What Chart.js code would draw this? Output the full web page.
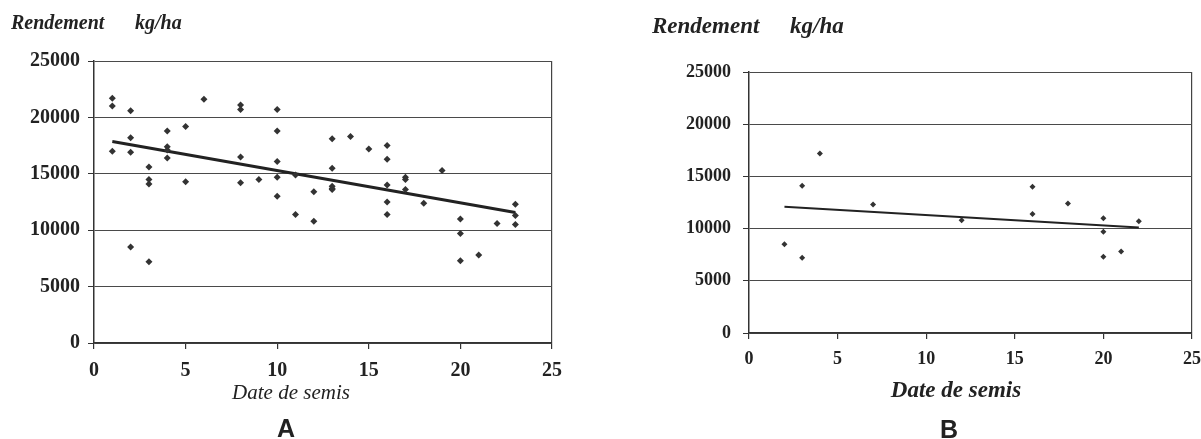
<!DOCTYPE html>
<html lang="fr">
<head>
<meta charset="utf-8">
<title>Rendement selon la date de semis</title>
<script src="https://cdn.jsdelivr.net/npm/chart.js@4.4.1/dist/chart.umd.min.js"></script>
<style>
  body { margin: 0; background: #fff; }
  #page { position: relative; width: 1201px; height: 439px; overflow: hidden; }
  canvas { position: absolute; top: 0; }
  #chartA { left: 0; }
  #chartB { left: 600px; }
  .txt { position: absolute; color: #222; line-height: 1; white-space: nowrap;
         font-family: "Liberation Serif", "Times New Roman", serif; }
  .ytitle { font-weight: bold; font-style: italic; }
  .xtitle { width: 240px; text-align: center; font-style: italic; }
  .letter { width: 100px; text-align: center; font-weight: bold;
            font-family: "Liberation Sans", Arial, sans-serif; font-size: 25px; }
</style>
</head>
<body>
<div id="page">
  <canvas id="chartA" width="600" height="439"></canvas>
  <canvas id="chartB" width="601" height="439"></canvas>

  <span class="txt ytitle" style="left:11px; top:12px; font-size:20px;">Rendement</span>
  <span class="txt ytitle" style="left:135px; top:12px; font-size:20px;">kg/ha</span>
  <span class="txt xtitle" style="left:171px; top:382px; font-size:21px;">Date de semis</span>
  <span class="txt letter" style="left:236px; top:416px;">A</span>

  <span class="txt ytitle" style="left:652px; top:14px; font-size:23px;">Rendement</span>
  <span class="txt ytitle" style="left:790px; top:14px; font-size:23px;">kg/ha</span>
  <span class="txt xtitle" style="left:836px; top:378px; font-size:23px; font-weight:bold;">Date de semis</span>
  <span class="txt letter" style="left:899px; top:417px;">B</span>
</div>

<script>
// Graphique A : toutes les dates de semis
const datesA = [1,1,1, 2,2,2,2, 3,3,3,3, 4,4,4,4, 5,5, 6, 8,8,8,8, 9,
                10,10,10,10,10, 11,11, 12,12, 13,13,13,13,13, 14, 15,
                16,16,16,16,16, 17,17,17, 18, 19, 20,20,20, 21, 22, 23,23,23];
const rendementA = [21700,21000,17000, 20600,18200,16900,8500, 15600,14500,14100,7200,
                    18800,17400,17100,16400, 19200,14300, 21600, 21100,20700,16500,14200, 14500,
                    20700,18800,16100,14700,13000, 14900,11400, 13400,10800,
                    18100,15500,13900,13700,13600, 18300, 17200,
                    17500,16300,14000,12500,11400, 14700,14500,13600, 12400, 15300,
                    11000,9700,7300, 7800, 10600, 12300,11300,10500];
const trendDatesA = [1, 23];
const trendA = [17870, 11570];

// Graphique B
const datesB = [2, 3,3, 4, 7, 12, 16,16, 18, 20,20,20, 21, 22];
const rendementB = [8500, 14100,7200, 17200, 12300, 10800, 14000,11400, 12400,
                    11000,9700,7300, 7800, 10700];
const trendDatesB = [2, 22];
const trendB = [12100, 10100];

// axes
const xTicks = [0, 5, 10, 15, 20, 25];
const yTicks = [0, 5000, 10000, 15000, 20000, 25000];

function toPoints(xs, ys) {
  return xs.map((x, i) => ({ x: x, y: ys[i] }));
}

function makeChart(id, pts, trend, cfg) {
  return new Chart(document.getElementById(id), {
    type: 'scatter',
    data: {
      datasets: [
        {
          data: pts,
          pointStyle: 'rectRot',
          pointRadius: cfg.radius,
          backgroundColor: '#333',
          borderColor: '#333',
          borderWidth: 0
        },
        {
          type: 'line',
          data: trend,
          borderColor: '#222',
          borderWidth: cfg.lineWidth,
          pointRadius: 0,
          fill: false
        }
      ]
    },
    options: {
      responsive: false,
      animation: false,
      events: [],
      layout: { padding: { left: 0, top: cfg.top, right: cfg.right, bottom: 0 } },
      plugins: { legend: { display: false }, tooltip: { enabled: false } },
      scales: {
        x: {
          type: 'linear',
          min: xTicks[0],
          max: xTicks[xTicks.length - 1],
          afterBuildTicks: axis => { axis.ticks = xTicks.map(v => ({ value: v })); },
          afterFit: axis => {
            axis.height = cfg.h - cfg.bottom;
            // pas de marge auto pour le dernier label (coupé comme dans l'original)
            axis.paddingLeft = 0;
            axis.paddingRight = 0;
          },
          grid: {
            drawOnChartArea: true,
            color: c => (c.tick && c.tick.value === 25 ? '#444' : 'rgba(0,0,0,0)'),
            tickColor: '#333',
            tickLength: 6,
            lineWidth: 1.2
          },
          border: { display: true, color: '#333', width: 1.5 },
          ticks: {
            color: '#222',
            padding: cfg.xPad,
            maxRotation: 0,
            font: { family: 'Liberation Serif', weight: 'bold', size: cfg.tickSize },
            callback: v => String(v)
          }
        },
        y: {
          min: yTicks[0],
          max: yTicks[yTicks.length - 1],
          afterBuildTicks: axis => { axis.ticks = yTicks.map(v => ({ value: v })); },
          afterFit: axis => { axis.width = cfg.left; },
          grid: { color: '#4a4a4a', tickColor: '#333', tickLength: 6, lineWidth: 1 },
          border: { display: true, color: '#333', width: 1.5 },
          ticks: {
            color: '#222',
            padding: cfg.yPad,
            font: { family: 'Liberation Serif', weight: 'bold', size: cfg.tickSize },
            callback: v => String(v)
          }
        }
      }
    }
  });
}

makeChart('chartA', toPoints(datesA, rendementA), toPoints(trendDatesA, trendA),
  { left: 94, top: 61, right: 48, bottom: 343, h: 439, xPad: 10, yPad: 8,
    tickSize: 20, radius: 3.5, lineWidth: 3 });

makeChart('chartB', toPoints(datesB, rendementB), toPoints(trendDatesB, trendB),
  { left: 149, top: 72, right: 9, bottom: 333, h: 439, xPad: 10, yPad: 12,
    tickSize: 18, radius: 3, lineWidth: 2 });
</script>
</body>
</html>
